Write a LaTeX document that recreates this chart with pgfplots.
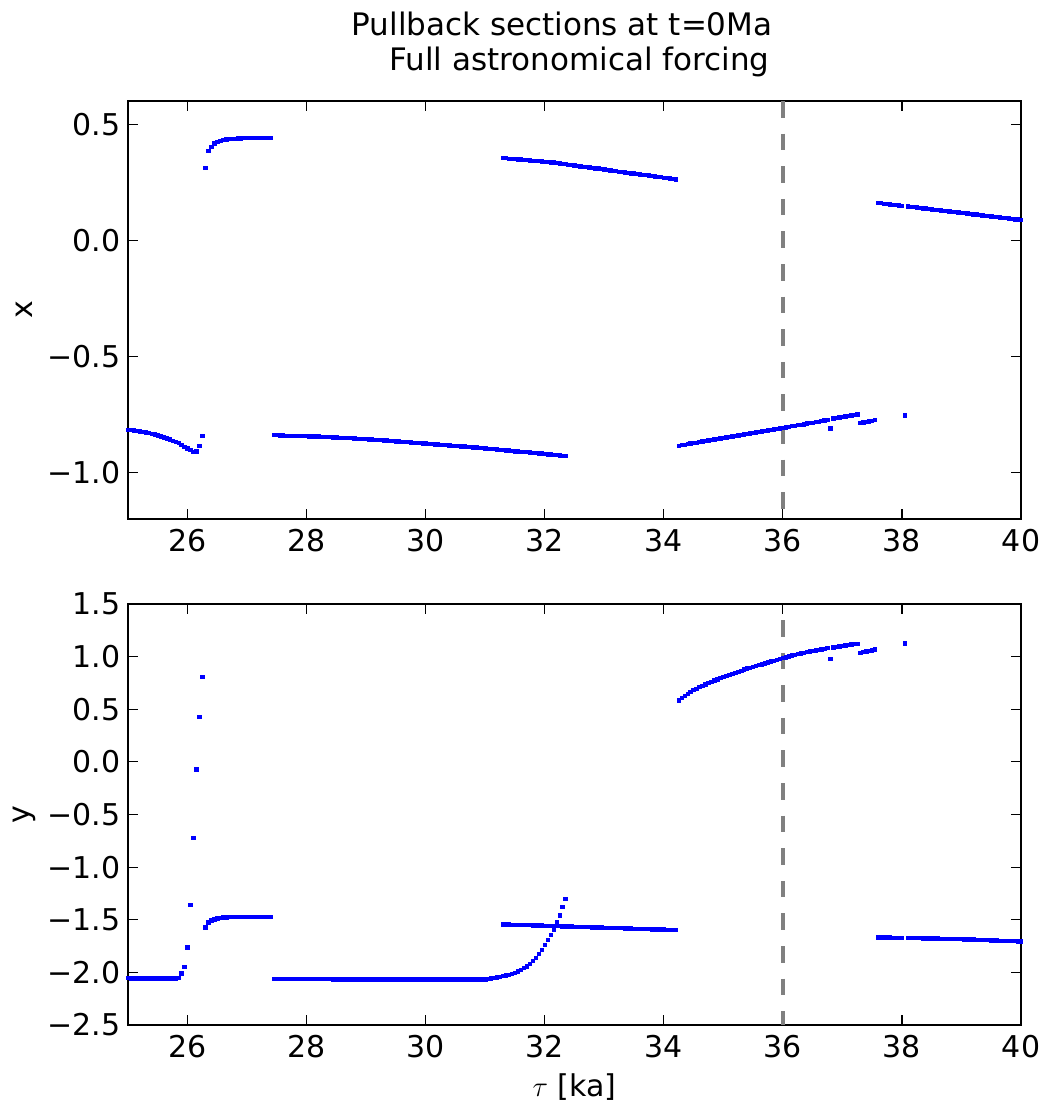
\documentclass[border=0pt]{standalone}
\usepackage{fontspec}
\setmainfont{DejaVu Sans}
\usepackage{pgfplots}
\pgfplotsset{compat=1.18}
\definecolor{mblue}{RGB}{0,0,255}
\definecolor{dgray}{RGB}{128,128,128}
\pgfplotsset{
 pts/.style={only marks, mark=square*, mark size=0.85bp, color=mblue, mark options={fill=mblue, draw=none}},
 vline/.style={dgray, line width=2bp, dash pattern=on 8.3bp off 8bp, no marks},
 base/.style={scale only axis, width=446.5bp, xmin=25, xmax=40,
  xtick={26,28,...,40}, xticklabels={26,28,30,32,34,36,38,40},
  axis line style={line width=1bp, black},
  tick style={black, line width=0.6bp}, major tick length=5bp,
  tick label style={font=\fontsize{15bp}{18bp}\selectfont},
  xticklabel style={inner sep=5bp},
  yticklabel style={inner xsep=3.5bp},
  every axis y label/.style={at={(axis description cs:-0.1165,0.5)}, rotate=90, anchor=center, font=\fontsize{15bp}{18bp}\selectfont},
 },
}
\begin{document}
\begin{tikzpicture}
\useasboundingbox (0,0) rectangle (524bp,-553bp);
% ---------------- top panel: x ----------------
\begin{axis}[base, at={(64bp,-259.5bp)}, anchor=south west, height=209bp,
  ymin=-1.2, ymax=0.6, ytick={-1,-0.5,0,0.5}, yticklabels={−1.0,−0.5,0.0,0.5},
  ylabel={x}]
% lower branch 1
\addplot[pts] coordinates {(25.00,-0.815)(25.05,-0.817)(25.10,-0.819)(25.15,-0.821)(25.20,-0.823)(25.25,-0.825)(25.30,-0.827)(25.35,-0.830)(25.40,-0.833)(25.45,-0.836)(25.50,-0.840)(25.55,-0.844)(25.60,-0.849)(25.65,-0.853)(25.70,-0.858)(25.75,-0.863)(25.80,-0.868)(25.85,-0.873)(25.90,-0.881)(25.95,-0.889)(26.00,-0.896)(26.05,-0.903)(26.10,-0.912)(26.15,-0.908)(26.20,-0.886)(26.25,-0.843)};
% upper branch 1
\addplot[pts] coordinates {(26.30,0.312)(26.35,0.385)(26.40,0.403)(26.45,0.417)(26.50,0.424)(26.55,0.429)(26.60,0.432)(26.65,0.434)(26.70,0.436)(26.75,0.437)(26.80,0.438)(26.85,0.439)(26.90,0.439)(26.95,0.440)(27.00,0.440)(27.05,0.440)(27.10,0.440)(27.15,0.440)(27.20,0.440)(27.25,0.440)(27.30,0.440)(27.35,0.440)(27.40,0.440)};
% lower branch 2
\addplot[pts] coordinates {(27.45,-0.839)(27.50,-0.839)(27.55,-0.840)(27.60,-0.840)(27.65,-0.841)(27.70,-0.841)(27.75,-0.841)(27.80,-0.842)(27.85,-0.842)(27.90,-0.843)(27.95,-0.843)(28.00,-0.843)(28.05,-0.844)(28.10,-0.844)(28.15,-0.845)(28.20,-0.845)(28.25,-0.846)(28.30,-0.846)(28.35,-0.847)(28.40,-0.847)(28.45,-0.848)(28.50,-0.849)(28.55,-0.850)(28.60,-0.850)(28.65,-0.851)(28.70,-0.852)(28.75,-0.852)(28.80,-0.853)(28.85,-0.854)(28.90,-0.855)(28.95,-0.855)(29.00,-0.856)(29.05,-0.857)(29.10,-0.858)(29.15,-0.859)(29.20,-0.859)(29.25,-0.860)(29.30,-0.861)(29.35,-0.862)(29.40,-0.863)(29.45,-0.864)(29.50,-0.865)(29.55,-0.866)(29.60,-0.867)(29.65,-0.868)(29.70,-0.869)(29.75,-0.870)(29.80,-0.871)(29.85,-0.872)(29.90,-0.873)(29.95,-0.874)(30.00,-0.875)(30.05,-0.876)(30.10,-0.877)(30.15,-0.878)(30.20,-0.879)(30.25,-0.880)(30.30,-0.881)(30.35,-0.882)(30.40,-0.883)(30.45,-0.884)(30.50,-0.885)(30.55,-0.886)(30.60,-0.887)(30.65,-0.888)(30.70,-0.889)(30.75,-0.890)(30.80,-0.891)(30.85,-0.892)(30.90,-0.893)(30.95,-0.895)(31.00,-0.896)(31.05,-0.897)(31.10,-0.898)(31.15,-0.899)(31.20,-0.900)(31.25,-0.902)(31.30,-0.903)(31.35,-0.904)(31.40,-0.905)(31.45,-0.906)(31.50,-0.908)(31.55,-0.909)(31.60,-0.910)(31.65,-0.911)(31.70,-0.912)(31.75,-0.914)(31.80,-0.915)(31.85,-0.916)(31.90,-0.917)(31.95,-0.918)(32.00,-0.920)(32.05,-0.921)(32.10,-0.922)(32.15,-0.923)(32.20,-0.924)(32.25,-0.926)(32.30,-0.927)(32.35,-0.928)};
% upper branch 2
\addplot[pts] coordinates {(31.30,0.355)(31.35,0.354)(31.40,0.352)(31.45,0.351)(31.50,0.350)(31.55,0.349)(31.60,0.348)(31.65,0.347)(31.70,0.346)(31.75,0.344)(31.80,0.343)(31.85,0.342)(31.90,0.341)(31.95,0.340)(32.00,0.338)(32.05,0.337)(32.10,0.336)(32.15,0.335)(32.20,0.333)(32.25,0.331)(32.30,0.330)(32.35,0.328)(32.40,0.326)(32.45,0.324)(32.50,0.323)(32.55,0.321)(32.60,0.319)(32.65,0.317)(32.70,0.316)(32.75,0.314)(32.80,0.312)(32.85,0.310)(32.90,0.309)(32.95,0.307)(33.00,0.305)(33.05,0.303)(33.10,0.302)(33.15,0.300)(33.20,0.298)(33.25,0.296)(33.30,0.295)(33.35,0.293)(33.40,0.291)(33.45,0.289)(33.50,0.288)(33.55,0.286)(33.60,0.284)(33.65,0.282)(33.70,0.281)(33.75,0.279)(33.80,0.277)(33.85,0.275)(33.90,0.274)(33.95,0.272)(34.00,0.270)(34.05,0.268)(34.10,0.267)(34.15,0.265)(34.20,0.263)};
% lower branch 3
\addplot[pts] coordinates {(34.25,-0.884)(34.30,-0.882)(34.35,-0.880)(34.40,-0.877)(34.45,-0.875)(34.50,-0.873)(34.55,-0.871)(34.60,-0.869)(34.65,-0.866)(34.70,-0.864)(34.75,-0.862)(34.80,-0.860)(34.85,-0.858)(34.90,-0.855)(34.95,-0.853)(35.00,-0.851)(35.05,-0.849)(35.10,-0.847)(35.15,-0.844)(35.20,-0.842)(35.25,-0.840)(35.30,-0.838)(35.35,-0.836)(35.40,-0.833)(35.45,-0.831)(35.50,-0.829)(35.55,-0.827)(35.60,-0.825)(35.65,-0.822)(35.70,-0.820)(35.75,-0.818)(35.80,-0.816)(35.85,-0.814)(35.90,-0.811)(35.95,-0.809)(36.00,-0.807)(36.05,-0.805)(36.10,-0.803)(36.15,-0.800)(36.20,-0.798)(36.25,-0.796)(36.30,-0.794)(36.35,-0.792)(36.40,-0.789)(36.45,-0.787)(36.50,-0.785)(36.55,-0.783)(36.60,-0.781)(36.65,-0.778)(36.70,-0.776)(36.75,-0.774)(36.85,-0.767)(36.90,-0.765)(36.95,-0.763)(37.00,-0.761)(37.05,-0.759)(37.10,-0.756)(37.15,-0.754)(37.20,-0.752)(37.25,-0.750)};
% isolated points and short pieces
\addplot[pts] coordinates {(36.80,-0.810)};
\addplot[pts] coordinates {(37.30,-0.787)(37.35,-0.784)(37.40,-0.782)(37.45,-0.779)(37.50,-0.777)(37.55,-0.774)};
\addplot[pts] coordinates {(38.05,-0.753)};
% upper branch 3
\addplot[pts] coordinates {(37.60,0.161)(37.65,0.160)(37.70,0.158)(37.75,0.157)(37.80,0.155)(37.85,0.153)(37.90,0.152)(37.95,0.150)(38.00,0.149)(38.10,0.146)(38.15,0.144)(38.20,0.143)(38.25,0.141)(38.30,0.140)(38.35,0.138)(38.40,0.137)(38.45,0.135)(38.50,0.134)(38.55,0.132)(38.60,0.131)(38.65,0.129)(38.70,0.128)(38.75,0.126)(38.80,0.125)(38.85,0.123)(38.90,0.122)(38.95,0.120)(39.00,0.119)(39.05,0.117)(39.10,0.116)(39.15,0.114)(39.20,0.112)(39.25,0.111)(39.30,0.109)(39.35,0.108)(39.40,0.106)(39.45,0.105)(39.50,0.103)(39.55,0.102)(39.60,0.100)(39.65,0.099)(39.70,0.097)(39.75,0.096)(39.80,0.094)(39.85,0.093)(39.90,0.091)(39.95,0.090)(40.00,0.088)};
\addplot[vline] coordinates {(36,0.6)(36,-1.2)};
\end{axis}
% ---------------- bottom panel: y ----------------
\begin{axis}[base, at={(64bp,-512.5bp)}, anchor=south west, height=210.5bp,
  ymin=-2.5, ymax=1.5, ytick={-2.5,-2,-1.5,-1,-0.5,0,0.5,1,1.5},
  yticklabels={−2.5,−2.0,−1.5,−1.0,−0.5,0.0,0.5,1.0,1.5},
  ylabel={y},
  xlabel={$\tau$ [ka]},
  every axis x label/.style={at={(axis description cs:0.5,-0.1485)}, anchor=center, font=\fontsize{15bp}{18bp}\selectfont}]
\addplot[pts] coordinates {(25.00,-2.052)(25.05,-2.056)(25.10,-2.057)(25.15,-2.058)(25.20,-2.058)(25.25,-2.058)(25.30,-2.058)(25.35,-2.058)(25.40,-2.058)(25.45,-2.058)(25.50,-2.058)(25.55,-2.058)(25.60,-2.058)(25.65,-2.058)(25.70,-2.058)(25.75,-2.058)(25.80,-2.058)(25.85,-2.050)(25.90,-2.011)(25.95,-1.945)(26.00,-1.763)(26.05,-1.361)(26.10,-0.721)(26.15,-0.071)(26.20,0.426)(26.25,0.809)};
\addplot[pts] coordinates {(26.30,-1.572)(26.35,-1.524)(26.40,-1.505)(26.45,-1.495)(26.50,-1.486)(26.55,-1.482)(26.60,-1.478)(26.65,-1.476)(26.70,-1.474)(26.75,-1.473)(26.80,-1.472)(26.85,-1.472)(26.90,-1.472)(26.95,-1.472)(27.00,-1.472)(27.05,-1.472)(27.10,-1.472)(27.15,-1.472)(27.20,-1.472)(27.25,-1.472)(27.30,-1.472)(27.35,-1.472)(27.40,-1.472)};
\addplot[pts] coordinates {(27.45,-2.060)(27.50,-2.060)(27.55,-2.060)(27.60,-2.060)(27.65,-2.060)(27.70,-2.060)(27.75,-2.060)(27.80,-2.060)(27.85,-2.060)(27.90,-2.060)(27.95,-2.060)(28.00,-2.060)(28.05,-2.060)(28.10,-2.060)(28.15,-2.060)(28.20,-2.060)(28.25,-2.060)(28.30,-2.060)(28.35,-2.060)(28.40,-2.060)(28.45,-2.068)(28.50,-2.068)(28.55,-2.068)(28.60,-2.068)(28.65,-2.068)(28.70,-2.068)(28.75,-2.068)(28.80,-2.068)(28.85,-2.068)(28.90,-2.068)(28.95,-2.068)(29.00,-2.068)(29.05,-2.068)(29.10,-2.068)(29.15,-2.068)(29.20,-2.068)(29.25,-2.068)(29.30,-2.068)(29.35,-2.068)(29.40,-2.068)(29.45,-2.068)(29.50,-2.068)(29.55,-2.068)(29.60,-2.068)(29.65,-2.068)(29.70,-2.068)(29.75,-2.068)(29.80,-2.068)(29.85,-2.068)(29.90,-2.068)(29.95,-2.068)(30.00,-2.068)(30.05,-2.068)(30.10,-2.068)(30.15,-2.068)(30.20,-2.068)(30.25,-2.068)(30.30,-2.068)(30.35,-2.068)(30.40,-2.068)(30.45,-2.068)(30.50,-2.068)(30.55,-2.068)(30.60,-2.068)(30.65,-2.068)(30.70,-2.068)(30.75,-2.068)(30.80,-2.068)(30.85,-2.068)(30.90,-2.067)(30.95,-2.066)(31.00,-2.065)(31.05,-2.061)(31.10,-2.057)(31.15,-2.053)(31.20,-2.048)(31.25,-2.042)(31.30,-2.036)(31.35,-2.029)(31.40,-2.022)(31.45,-2.013)(31.50,-2.003)(31.55,-1.991)(31.60,-1.976)(31.65,-1.960)(31.70,-1.942)(31.75,-1.920)(31.80,-1.893)(31.85,-1.860)(31.90,-1.826)(31.95,-1.785)(32.00,-1.738)(32.05,-1.690)(32.10,-1.642)(32.15,-1.590)(32.20,-1.525)(32.25,-1.458)(32.30,-1.377)(32.35,-1.304)};
\addplot[pts] coordinates {(31.30,-1.543)(31.35,-1.544)(31.40,-1.545)(31.45,-1.546)(31.50,-1.547)(31.55,-1.548)(31.60,-1.549)(31.65,-1.549)(31.70,-1.550)(31.75,-1.551)(31.80,-1.552)(31.85,-1.553)(31.90,-1.554)(31.95,-1.555)(32.00,-1.556)(32.05,-1.557)(32.10,-1.558)(32.15,-1.559)(32.20,-1.560)(32.25,-1.561)(32.30,-1.562)(32.35,-1.563)(32.40,-1.563)(32.45,-1.564)(32.50,-1.565)(32.55,-1.566)(32.60,-1.567)(32.65,-1.568)(32.70,-1.569)(32.75,-1.570)(32.80,-1.571)(32.85,-1.572)(32.90,-1.573)(32.95,-1.574)(33.00,-1.575)(33.05,-1.576)(33.10,-1.577)(33.15,-1.577)(33.20,-1.578)(33.25,-1.579)(33.30,-1.580)(33.35,-1.581)(33.40,-1.582)(33.45,-1.583)(33.50,-1.584)(33.55,-1.585)(33.60,-1.586)(33.65,-1.587)(33.70,-1.588)(33.75,-1.589)(33.80,-1.590)(33.85,-1.590)(33.90,-1.591)(33.95,-1.592)(34.00,-1.593)(34.05,-1.594)(34.10,-1.595)(34.15,-1.596)(34.20,-1.597)};
\addplot[pts] coordinates {(34.25,0.586)(34.30,0.606)(34.35,0.626)(34.40,0.645)(34.45,0.664)(34.50,0.682)(34.55,0.696)(34.60,0.710)(34.65,0.724)(34.70,0.737)(34.75,0.749)(34.80,0.762)(34.85,0.774)(34.90,0.785)(34.95,0.796)(35.00,0.807)(35.05,0.817)(35.10,0.827)(35.15,0.837)(35.20,0.847)(35.25,0.857)(35.30,0.867)(35.35,0.877)(35.40,0.887)(35.45,0.895)(35.50,0.903)(35.55,0.912)(35.60,0.920)(35.65,0.928)(35.70,0.937)(35.75,0.945)(35.80,0.953)(35.85,0.962)(35.90,0.970)(35.95,0.978)(36.00,0.986)(36.05,0.994)(36.10,1.002)(36.15,1.010)(36.20,1.018)(36.25,1.026)(36.30,1.032)(36.35,1.037)(36.40,1.043)(36.45,1.048)(36.50,1.054)(36.55,1.059)(36.60,1.065)(36.65,1.070)(36.70,1.076)(36.75,1.081)(36.85,1.089)(36.90,1.094)(36.95,1.098)(37.00,1.103)(37.05,1.107)(37.10,1.111)(37.15,1.115)(37.20,1.119)(37.25,1.123)};
\addplot[pts] coordinates {(36.80,0.981)};
\addplot[pts] coordinates {(37.30,1.038)(37.35,1.044)(37.40,1.050)(37.45,1.056)(37.50,1.061)(37.55,1.067)};
\addplot[pts] coordinates {(38.05,1.124)};
\addplot[pts] coordinates {(37.60,-1.667)(37.65,-1.668)(37.70,-1.668)(37.75,-1.669)(37.80,-1.669)(37.85,-1.670)(37.90,-1.670)(37.95,-1.671)(38.00,-1.672)(38.10,-1.673)(38.15,-1.673)(38.20,-1.674)(38.25,-1.674)(38.30,-1.675)(38.35,-1.676)(38.40,-1.676)(38.45,-1.677)(38.50,-1.677)(38.55,-1.678)(38.60,-1.678)(38.65,-1.679)(38.70,-1.680)(38.75,-1.680)(38.80,-1.681)(38.85,-1.681)(38.90,-1.682)(38.95,-1.683)(39.00,-1.684)(39.05,-1.685)(39.10,-1.686)(39.15,-1.687)(39.20,-1.688)(39.25,-1.689)(39.30,-1.690)(39.35,-1.691)(39.40,-1.692)(39.45,-1.694)(39.50,-1.695)(39.55,-1.696)(39.60,-1.697)(39.65,-1.698)(39.70,-1.699)(39.75,-1.700)(39.80,-1.701)(39.85,-1.702)(39.90,-1.703)(39.95,-1.704)(40.00,-1.706)};
\addplot[vline, dash phase=8.3bp] coordinates {(36,1.5)(36,-2.5)};
\end{axis}
\node[anchor=base, font=\fontsize{15.5bp}{18bp}\selectfont] at (281bp,-17.5bp) {Pullback sections at t=0Ma};
\node[anchor=base, font=\fontsize{15.5bp}{18bp}\selectfont] at (289.75bp,-35bp) {Full astronomical forcing};
\end{tikzpicture}
\end{document}
